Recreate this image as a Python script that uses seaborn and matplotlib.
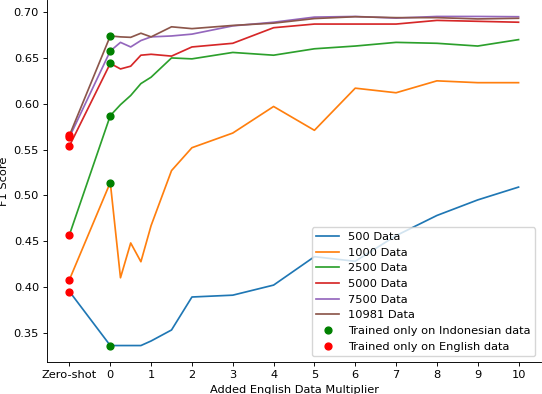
import matplotlib
matplotlib.use("Agg")
import matplotlib.pyplot as plt
import seaborn as sns
import pandas as pd

# x positions: -1 stands for the zero-shot setting
multipliers = [-1, 0, 0.25, 0.5, 0.75, 1, 1.5, 2, 3, 4, 5, 6, 7, 8, 9, 10]
tick_pos = [-1, 0, 1, 2, 3, 4, 5, 6, 7, 8, 9, 10]
tick_labels = ["Zero-shot", "0", "1", "2", "3", "4", "5", "6", "7", "8", "9", "10"]

series_names = ["500 Data", "1000 Data", "2500 Data", "5000 Data", "7500 Data", "10981 Data"]
f1_500 = [0.395, 0.336, 0.336, 0.336, 0.336, 0.341, 0.353, 0.389, 0.391, 0.402, 0.433, 0.428, 0.456, 0.478, 0.495, 0.509]
f1_1000 = [0.408, 0.514, 0.410, 0.448, 0.4275, 0.467, 0.527, 0.552, 0.568, 0.597, 0.571, 0.617, 0.612, 0.625, 0.623, 0.623]
f1_2500 = [0.457, 0.587, 0.599, 0.609, 0.622, 0.629, 0.650, 0.649, 0.656, 0.653, 0.660, 0.663, 0.667, 0.666, 0.663, 0.670]
f1_5000 = [0.554, 0.644, 0.638, 0.641, 0.653, 0.654, 0.652, 0.662, 0.666, 0.683, 0.687, 0.687, 0.687, 0.691, 0.690, 0.689]
f1_7500 = [0.5635, 0.6576, 0.667, 0.662, 0.669, 0.673, 0.674, 0.676, 0.685, 0.689, 0.6946, 0.6953, 0.6935, 0.6953, 0.6953, 0.695]
f1_10981 = [0.5655, 0.674, 0.673, 0.6725, 0.677, 0.673, 0.684, 0.682, 0.6855, 0.688, 0.693, 0.695, 0.694, 0.694, 0.6926, 0.6933]
all_series = [f1_500, f1_1000, f1_2500, f1_5000, f1_7500, f1_10981]

# everything looks like the default style shrunk to ~0.82
k = 0.82
plt.rcParams.update({
    "font.size": 10 * k,
    "axes.linewidth": 0.8 * k,
    "xtick.major.size": 3.5 * k, "ytick.major.size": 3.5 * k,
    "xtick.major.width": 0.8 * k, "ytick.major.width": 0.8 * k,
    "xtick.major.pad": 3.5 * k, "ytick.major.pad": 3.5 * k,
    "axes.labelpad": 4.0 * k,
})

fig = plt.figure(figsize=(5.42, 3.94), dpi=100)
ax = fig.add_axes([47 / 542, 32 / 394, 494 / 542, 362 / 394])

palette = sns.color_palette("tab10", len(series_names))
for name, vals, col in zip(series_names, all_series, palette):
    df = pd.DataFrame({"x": multipliers, "f1": vals})
    sns.lineplot(data=df, x="x", y="f1", color=col, label=name, ax=ax, linewidth=1.5 * k)

# dots: indonesian-only at multiplier 0, english-only at zero-shot
indo_y = [s[1] for s in all_series]
eng_y = [s[0] for s in all_series]
ax.plot([0] * len(indo_y), indo_y, "o", color="green", linestyle="none",
        markersize=6 * k, label="Trained only on Indonesian data")
ax.plot([-1] * len(eng_y), eng_y, "o", color="red", linestyle="none",
        markersize=6 * k, label="Trained only on English data")

ax.set_xticks(tick_pos)
ax.set_xticklabels(tick_labels)
ax.set_xlabel("Added English Data Multiplier")
ax.set_ylabel("F1 Score")
ax.legend(loc="lower right")
sns.despine(ax=ax)

fig.savefig("out.png", dpi=100)
